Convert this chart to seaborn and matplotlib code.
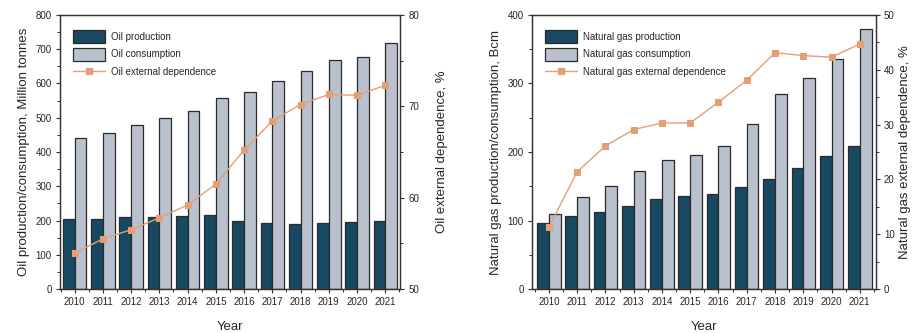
import matplotlib
matplotlib.use("Agg")
import matplotlib.pyplot as plt
import seaborn as sns
import pandas as pd
from matplotlib.patches import Patch
from matplotlib.lines import Line2D
from matplotlib.ticker import MultipleLocator, FixedLocator

years = ["2010", "2011", "2012", "2013", "2014", "2015", "2016", "2017", "2018", "2019", "2020", "2021"]

oil_production = [204, 204, 209, 211, 212, 215, 200, 192, 190, 192, 196, 200]
oil_consumption = [441, 456, 478, 500, 519, 557, 574, 606, 636, 668, 676, 718]
oil_dependence = [53.9, 55.5, 56.5, 57.8, 59.2, 61.5, 65.2, 68.4, 70.2, 71.3, 71.2, 72.3]

gas_production = [96, 106, 112, 121.5, 131, 136, 138, 149, 161, 177, 194, 209]
gas_consumption = [109, 135, 151, 172, 189, 195, 209.5, 241, 284, 308, 336, 379]
gas_dependence = [11.3, 21.4, 26.1, 29.1, 30.3, 30.3, 34.1, 38.1, 43.1, 42.6, 42.3, 44.7]

sns.set_theme(style="ticks")
plt.rcParams["font.family"] = ["Liberation Sans", "DejaVu Sans"]

C_PROD = "#174a62"
C_CONS = "#b8c1cd"
C_LINE = "#e59f74"
C_EDGE = "#2a2a2a"
C_SPINE = "#333333"

fig = plt.figure(figsize=(9.14, 3.33), dpi=100)
ax_l = fig.add_axes([0.0656, 0.132, 0.372, 0.823])
ax_r = fig.add_axes([0.582, 0.132, 0.376, 0.823])


def panel(ax, prod, cons, dep, names, ylab, ylab2, ylim, ymaj, ymin, y2lim, y2maj, y2min, xlim, pad2):
    df = pd.DataFrame({
        "Year": years * 2,
        "Value": list(prod) + list(cons),
        "Series": [names[0]] * len(years) + [names[1]] * len(years),
    })
    sns.barplot(data=df, x="Year", y="Value", hue="Series", ax=ax,
                palette=[C_PROD, C_CONS], edgecolor=C_EDGE, linewidth=0.9,
                width=0.83, gap=0, legend=False, saturation=1)
    ax.set_ylim(*ylim)
    ax.set_xlim(*xlim)
    ax.yaxis.set_major_locator(MultipleLocator(ymaj))
    ax.yaxis.set_minor_locator(MultipleLocator(ymin))
    ax.xaxis.set_minor_locator(FixedLocator([i + 0.5 for i in range(-1, 12)]))
    ax.set_xlabel("Year", fontsize=9.5, labelpad=10)
    ax.set_ylabel(ylab, fontsize=9.5, labelpad=4)
    ax.tick_params(axis="both", which="major", labelsize=7, length=3, width=0.8, color=C_SPINE, pad=3)
    ax.tick_params(axis="both", which="minor", length=2, width=0.7, color=C_SPINE)
    for s in ax.spines.values():
        s.set_visible(True)
        s.set_color(C_SPINE)
        s.set_linewidth(0.9)

    ax2 = ax.twinx()
    sns.lineplot(x=years, y=dep, ax=ax2, color=C_LINE, marker="s", markersize=5,
                 markerfacecolor=C_LINE, markeredgecolor=C_LINE, linewidth=1.0)
    ax2.set_ylim(*y2lim)
    ax2.set_xlim(*xlim)
    ax2.yaxis.set_major_locator(MultipleLocator(y2maj))
    ax2.yaxis.set_minor_locator(MultipleLocator(y2min))
    ax2.set_ylabel(ylab2, fontsize=9.5, labelpad=pad2)
    ax2.tick_params(axis="y", which="major", labelsize=7, length=3, width=0.8, color=C_SPINE, pad=3)
    ax2.tick_params(axis="y", which="minor", length=2, width=0.7, color=C_SPINE)
    for s in ax2.spines.values():
        s.set_color(C_SPINE)
        s.set_linewidth(0.9)

    handles = [
        Patch(facecolor=C_PROD, edgecolor=C_EDGE, linewidth=0.9, label=names[0]),
        Patch(facecolor=C_CONS, edgecolor=C_EDGE, linewidth=0.9, label=names[1]),
        Line2D([], [], color=C_LINE, marker="s", markersize=5, linewidth=1.0, label=names[2]),
    ]
    ax2.legend(handles=handles, loc="upper left", frameon=False, fontsize=7,
               handlelength=3.3, handleheight=1.6, labelspacing=0.55,
               borderaxespad=0.6, handletextpad=0.6, bbox_to_anchor=(0.01, 0.98))


panel(ax_l, oil_production, oil_consumption, oil_dependence,
      ["Oil production", "Oil consumption", "Oil external dependence"],
      "Oil production/consumption, Million tonnes", "Oil external dependence, %",
      (0, 800), 100, 50, (50, 80), 10, 5, (-0.52, 11.52), 12)

panel(ax_r, gas_production, gas_consumption, gas_dependence,
      ["Natural gas production", "Natural gas consumption", "Natural gas external dependence"],
      "Natural gas production/consumption, Bcm", "Natural gas external dependence, %",
      (0, 400), 100, 50, (0, 50), 10, 5, (-0.6, 11.56), 3)

fig.savefig("out.png", dpi=100)
